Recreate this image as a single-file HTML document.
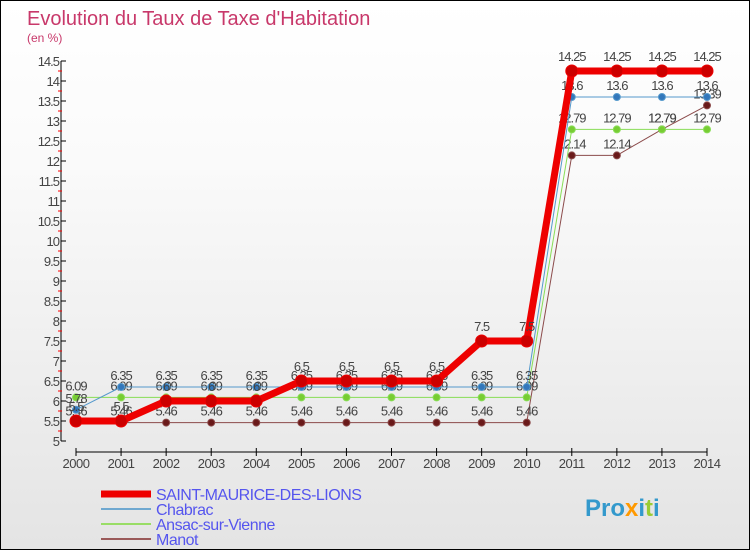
<!DOCTYPE html>
<html><head><meta charset="utf-8"><style>
body{margin:0}
#c{position:relative;width:748px;height:548px;border:1px solid #000;background:linear-gradient(#fff,#fafafa 30%,#e4e4e4);font-family:"Liberation Sans",sans-serif;overflow:hidden}
svg text{font-family:"Liberation Sans",sans-serif}
</style></head><body>
<div id="c">
<svg id="s" width="748" height="548">
<text x="26" y="24" font-size="20" fill="#c8386a">Evolution du Taux de Taxe d'Habitation</text>
<text x="26" y="41" font-size="12" fill="#c8386a">(en %)</text>
</svg>
</div>
<script>
const years=[2000,2001,2002,2003,2004,2005,2006,2007,2008,2009,2010,2011,2012,2013,2014];
const saint=[5.5,5.5,6,6,6,6.5,6.5,6.5,6.5,7.5,7.5,14.25,14.25,14.25,14.25];
const chabrac=[5.78,6.35,6.35,6.35,6.35,6.35,6.35,6.35,6.35,6.35,6.35,13.6,13.6,13.6,13.6];
const ansac=[6.09,6.09,6.09,6.09,6.09,6.09,6.09,6.09,6.09,6.09,6.09,12.79,12.79,12.79,12.79];
const manot=[5.46,5.46,5.46,5.46,5.46,5.46,5.46,5.46,5.46,5.46,5.46,12.14,12.14,12.79,13.39];
const yTicks=[5,5.5,6,6.5,7,7.5,8,8.5,9,9.5,10,10.5,11,11.5,12,12.5,13,13.5,14,14.5];
const svg=document.getElementById('s');const NS='http://www.w3.org/2000/svg';
const X=i=>75+i*(706-75)/(years.length-1);
const Y=v=>440-(v-5)*40;
function mk(t,a,p){const e=document.createElementNS(NS,t);for(const k in a)e.setAttribute(k,a[k]);(p||svg).appendChild(e);return e;}
let e=mk('line',{x1:60,y1:60,x2:60,y2:440,stroke:'#000'});


e=mk('line',{x1:75,y1:451,x2:706,y2:451,stroke:'#000'});


yTicks.forEach(v=>{mk('line',{x1:60,y1:Y(v),x2:65,y2:Y(v),stroke:'#000'});
 if(v>5)mk('line',{x1:57,y1:Y(v)+10,x2:61,y2:Y(v)+10,stroke:'red'});
 const t=mk('text',{x:58,y:Y(v)+5,'font-size':13,'text-anchor':'end',fill:'#444','letter-spacing':'-1'});t.textContent=String(v);
 
 });
years.forEach((y,i)=>{mk('line',{x1:X(i),y1:447,x2:X(i),y2:455,stroke:'#000'});
 const t=mk('text',{x:X(i),y:467,'font-size':13,'text-anchor':'middle',fill:'#444','letter-spacing':'-0.5'});t.textContent=y;
 
 });
function series(vals,color,w,r,dot,name,labOff){
 const g=mk('g',{});
 mk('polyline',{points:vals.map((v,i)=>X(i)+','+Y(v)).join(' '),fill:'none',stroke:color,'stroke-width':w,'stroke-linejoin':'round'},g);
 vals.forEach((v,i)=>{const c=mk('circle',{cx:X(i),cy:Y(v),r:r,fill:dot,stroke:color,'stroke-width':1},g);
  
  const t=mk('text',{x:X(i),y:Y(v)+labOff,'font-size':13,'text-anchor':'middle',fill:'#444','letter-spacing':'-1'},g);t.textContent=String(v);});
}
series(manot,'#8b4a4a',1,3.5,'#6a1a1a','series-manot',-7);
series(ansac,'#88dd55',1,3.5,'#77cc33','series-ansac',-7);
series(chabrac,'#5599cc',1,3.5,'#3377bb','series-chabrac',-7);
series(saint,'#ee0000',7,6,'#cc0000','series-saint-maurice',-10);
const leg=[['SAINT-MAURICE-DES-LIONS','#ee0000',7],['Chabrac','#6fa8d0',2],['Ansac-sur-Vienne','#99dd66',2],['Manot','#9a5a5a',2]];
leg.forEach((l,i)=>{const yy=493+i*15;mk('line',{x1:100,y1:yy,x2:150,y2:yy,stroke:l[1],'stroke-width':l[2]});
 const t=mk('text',{x:155,y:yy+6,'font-size':16,fill:'#5555ee','letter-spacing':'-0.5'});t.textContent=l[0];
 
 });
const p=mk('text',{x:584,y:515,'font-size':24,'font-weight':'bold',fill:'#3399cc'});
p.innerHTML='<tspan fill="#3399cc">Pro</tspan><tspan fill="#ff9900">x</tspan><tspan fill="#3399cc">i</tspan><tspan fill="#99cc33">t</tspan><tspan fill="#3399cc">i</tspan>';


</script>
</body></html>
